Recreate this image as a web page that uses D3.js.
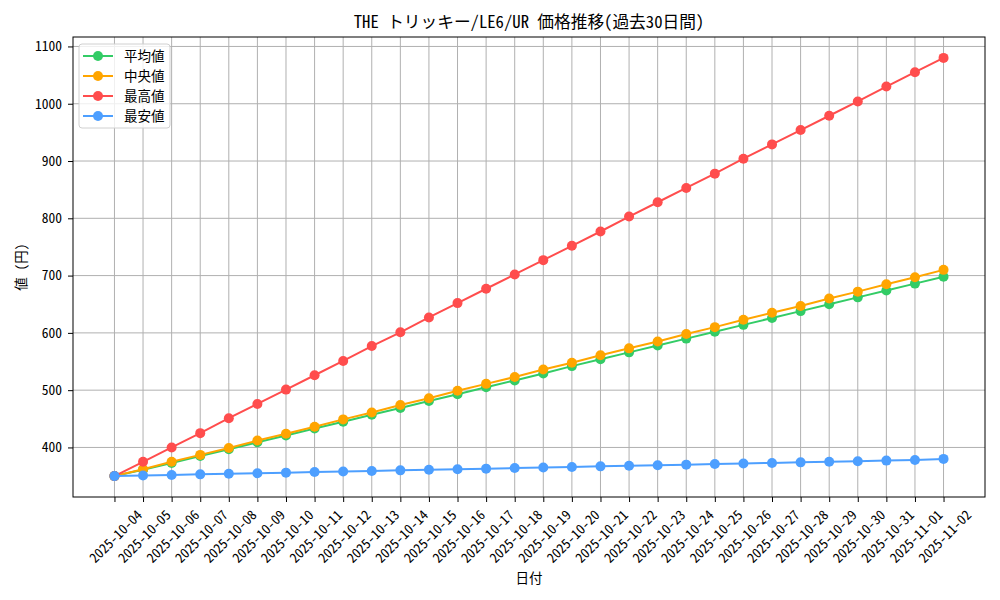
<!DOCTYPE html>
<html>
<head>
<meta charset="utf-8">
<script src="https://cdn.jsdelivr.net/npm/d3@7"></script>
<style>
  body { margin: 0; background: #fff; }
  svg text { font-family: "Noto Sans Mono CJK JP", "Noto Sans CJK JP", "DejaVu Sans", sans-serif; fill: #000; }
</style>
</head>
<body>
<svg id="chart" width="1000" height="600"></svg>
<script>
const dates = [
  "2025-10-04", "2025-10-05", "2025-10-06", "2025-10-07", "2025-10-08", "2025-10-09",
  "2025-10-10", "2025-10-11", "2025-10-12", "2025-10-13", "2025-10-14", "2025-10-15",
  "2025-10-16", "2025-10-17", "2025-10-18", "2025-10-19", "2025-10-20", "2025-10-21",
  "2025-10-22", "2025-10-23", "2025-10-24", "2025-10-25", "2025-10-26", "2025-10-27",
  "2025-10-28", "2025-10-29", "2025-10-30", "2025-10-31", "2025-11-01", "2025-11-02"
];
const avgValues = [350, 361, 373, 385, 397, 409, 421, 433, 445, 457, 469, 481, 493, 505, 517,
  529, 542, 554, 566, 578, 590, 602, 614, 626, 638, 650, 662, 674, 686, 698];
const medianValues = [350, 362, 375, 387, 399, 412, 424, 436, 449, 461, 474, 486, 499, 511, 523,
  536, 548, 561, 573, 585, 598, 610, 623, 635, 647, 660, 672, 685, 697, 710];
const maxValues = [350, 375, 400, 425, 451, 476, 501, 526, 551, 577, 601, 627, 652, 677, 702,
  727, 752, 777, 803, 828, 853, 878, 904, 929, 954, 979, 1004, 1030, 1055, 1080];
const minValues = [350, 351, 352, 353, 354, 355, 356, 357, 358, 359, 360, 361, 362, 363, 364,
  365, 366, 367, 368, 369, 370, 371, 372, 373, 374, 375, 376, 377, 378, 380];
const yTicks = [400, 500, 600, 700, 800, 900, 1000, 1100];

const series = [
  { name: "平均値", values: avgValues, color: "#33cc66" },
  { name: "中央値", values: medianValues, color: "#ffa500" },
  { name: "最高値", values: maxValues, color: "#ff4d4d" },
  { name: "最安値", values: minValues, color: "#4d9fff" }
];

const margin = { top: 37, right: 15, bottom: 103, left: 73 };
const width = 1000 - margin.left - margin.right;
const height = 600 - margin.top - margin.bottom;

const svg = d3.select("#chart");
const g = svg.append("g").attr("transform", `translate(${margin.left},${margin.top})`);

// matplotlib-style 5% padding on both axes
const n = dates.length;
const x = d3.scaleLinear().domain([-0.05 * (n - 1), (n - 1) * 1.05]).range([0, width]);
const allVals = series.flatMap((s) => s.values);
const lo = d3.min(allVals), hi = d3.max(allVals);
const pad = (hi - lo) * 0.05;
const y = d3.scaleLinear().domain([lo - pad, hi + pad]).range([height, 0]);

// grid
g.append("g")
  .selectAll("line")
  .data(d3.range(n))
  .enter()
  .append("line")
  .attr("x1", (i) => x(i)).attr("x2", (i) => x(i))
  .attr("y1", 0).attr("y2", height)
  .attr("stroke", "#b0b0b0").attr("stroke-width", 1);
g.append("g")
  .selectAll("line")
  .data(yTicks)
  .enter()
  .append("line")
  .attr("x1", 0).attr("x2", width)
  .attr("y1", (d) => y(d)).attr("y2", (d) => y(d))
  .attr("stroke", "#b0b0b0").attr("stroke-width", 1);

// axes
const xAxis = g.append("g")
  .attr("transform", `translate(0,${height})`)
  .call(d3.axisBottom(x).tickValues(d3.range(n)).tickFormat((i) => dates[i]).tickSizeOuter(0).tickSize(5));
xAxis.select(".domain").remove();
// rotated labels centred under the tick (matplotlib rotation=45, ha=center)
xAxis.selectAll(".tick text")
  .attr("font-size", 13.5)
  .attr("text-anchor", "middle")
  .attr("dominant-baseline", "central")
  .attr("y", 0).attr("dy", 0)
  .each(function () {
    const len = this.getComputedTextLength();
    const half = (len + 13.5) / (2 * Math.SQRT2);
    d3.select(this).attr("transform", `translate(0,${10 + half}) rotate(-45)`);
  });

const yAxis = g.append("g")
  .call(d3.axisLeft(y).tickValues(yTicks).tickFormat(d3.format("d")).tickSizeOuter(0).tickSize(5));
yAxis.select(".domain").remove();
yAxis.selectAll("text").attr("font-size", 13.5).attr("dx", "-3");
svg.selectAll(".tick line").attr("stroke", "#000");

// frame
g.append("rect")
  .attr("width", width).attr("height", height)
  .attr("fill", "none").attr("stroke", "#000").attr("stroke-width", 1);

// lines + markers
const line = d3.line().x((d, i) => x(i)).y((d) => y(d));
series.forEach((s) => {
  g.append("path")
    .datum(s.values)
    .attr("d", line)
    .attr("fill", "none")
    .attr("stroke", s.color)
    .attr("stroke-width", 2);
  g.append("g")
    .selectAll("circle")
    .data(s.values)
    .enter()
    .append("circle")
    .attr("cx", (d, i) => x(i))
    .attr("cy", (d) => y(d))
    .attr("r", 5)
    .attr("fill", s.color);
});

// legend
const legend = g.append("g").attr("transform", "translate(6,7)");
legend.append("rect")
  .attr("width", 91).attr("height", 84).attr("rx", 3)
  .attr("fill", "#fff").attr("fill-opacity", 0.8)
  .attr("stroke", "#d0d0d0");
series.forEach((s, i) => {
  const row = legend.append("g").attr("transform", `translate(0,${12 + i * 20})`);
  row.append("line").attr("x1", 4).attr("x2", 34).attr("stroke", s.color).attr("stroke-width", 2);
  row.append("circle").attr("cx", 19).attr("r", 5).attr("fill", s.color);
  row.append("text").attr("x", 45).attr("dy", "0.35em").attr("font-size", 13.5).text(s.name);
});

// titles
svg.append("text")
  .attr("x", margin.left + width / 2).attr("y", 28)
  .attr("text-anchor", "middle").attr("font-size", 16.7)
  .text("THE トリッキー/LE6/UR 価格推移(過去30日間)");
svg.append("text")
  .attr("x", margin.left + width / 2).attr("y", 583)
  .attr("text-anchor", "middle").attr("font-size", 13.5)
  .text("日付");
svg.append("text")
  .attr("transform", `translate(26,${margin.top + height / 2}) rotate(-90)`)
  .attr("text-anchor", "middle").attr("font-size", 13.5)
  .text("値 (円)");
</script>
</body>
</html>
